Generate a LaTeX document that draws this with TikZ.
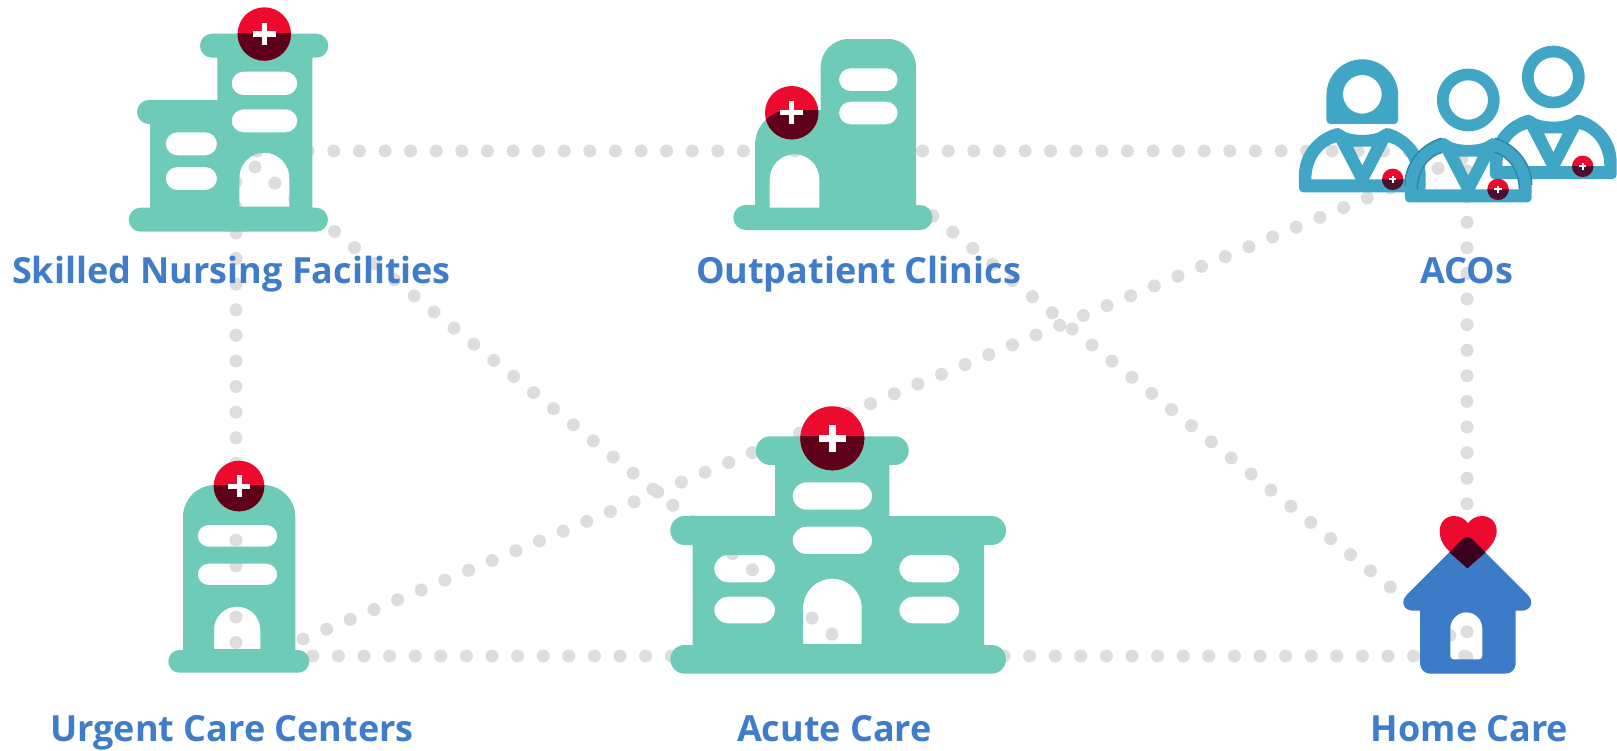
\documentclass[tikz,border=0pt]{standalone}
\usepackage{fontspec}
\setmainfont{Open Sans}[Ligatures=NoCommon]
\definecolor{teal1}{HTML}{6DCBB8}
\definecolor{red1}{HTML}{EC0B2E}
\definecolor{dark1}{HTML}{5F001B}
\definecolor{dark2}{HTML}{4A1030}
\definecolor{dark3}{HTML}{3B0020}
\definecolor{house1}{HTML}{3B7BC8}
\definecolor{person1}{HTML}{41A5C6}
\definecolor{person2}{HTML}{2F86A6}
\definecolor{label1}{HTML}{3F7CC9}
\definecolor{dot1}{HTML}{DDDDDD}
\tikzset{
  dotline/.style={draw=dot1,line width=13pt,line cap=round,dash pattern=on 0pt off 25.6pt},
  building/.style={fill=teal1,even odd rule},
  peoplefill/.style={fill=person1,even odd rule},
  caption/.style={text=label1,font=\fontsize{36}{42}\selectfont\bfseries,inner sep=0pt,anchor=base}
}
% x, y, radius, split y, half arm, bar thickness, dark colour
\newcommand\badgemark[7]{%
  \fill[red1] (#1,#2) circle[radius=#3pt];
  \begin{scope}
    \clip ({#1-#3-1},#4) rectangle ({#1+#3+1},{#2+#3+1});
    \fill[#7] (#1,#2) circle[radius=#3pt];
  \end{scope}
  \fill[white] ({#1-#5},{#2-#6/2}) rectangle ({#1+#5},{#2+#6/2});
  \fill[white] ({#1-#6/2},{#2-#5}) rectangle ({#1+#6/2},{#2+#5});
}
\newcommand\personbody[2]{%
  \begin{scope}[shift={(#1,#2)},scale=1/3]
  \fill[peoplefill]
    (-178,0) .. controls (-185,0) and (-190,-6) .. (-190,-13) -- (-190,-52)
    .. controls (-190,-120) and (-140,-175) .. (-80,-192)
    .. controls (-73,-194) and (-68,-192) .. (-62,-188)
    .. controls (-40,-167) and (40,-167) .. (62,-188)
    .. controls (68,-192) and (73,-194) .. (80,-192)
    .. controls (140,-175) and (190,-120) .. (190,-52) -- (190,-13)
    .. controls (190,-6) and (185,0) .. (178,0) -- cycle
    (-153,-39) -- (-20,-39) -- (-78,-150) .. controls (-120,-140) and (-153,-95) .. (-153,-39) -- cycle
    (153,-39) -- (20,-39) -- (78,-150) .. controls (120,-140) and (153,-95) .. (153,-39) -- cycle
    (-28,-137) -- (28,-137) -- (0,-80) -- cycle;
  \end{scope}
}
\begin{document}
\begin{tikzpicture}[x=1pt,y=1pt,yscale=-1]
\useasboundingbox (0,0) rectangle (1617,750);
\fill[white] (0,0) rectangle (1617,750);

% connector ends
\coordinate (snfRow) at (257,151);
\coordinate (acoRow) at (1411,151);
\coordinate (snfDown) at (236,181.7);
\coordinate (ucTop) at (236,643);
\coordinate (ucRow) at (236,656);
\coordinate (homeRow) at (1465,656);
\coordinate (snfDiag) at (255,167);
\coordinate (acuteDoor) at (833,635);
\coordinate (ucDiag) at (303,639);
\coordinate (acoDiag) at (1463,158);
\coordinate (opDiag) at (933,216);
\coordinate (homeDiag) at (1468,650);
\coordinate (acoDown) at (1467,171);
\coordinate (homeTop) at (1467,657.6);

\draw[dotline] (snfRow) -- (acoRow);
\draw[dotline] (snfDown) -- (ucTop);
\draw[dotline] (ucRow) -- (homeRow);
\draw[dotline] (snfDiag) -- (acuteDoor);
\draw[dotline] (ucDiag) -- (acoDiag);
\draw[dotline] (opDiag) -- (homeDiag);
\draw[dotline] (acoDown) -- (homeTop);

% Skilled Nursing Facilities
\fill[building]
  (212,33.7) -- (316.3,33.7) arc (-90:90:12pt) -- (312.3,57.7) -- (312.3,207.7) -- (316,207.7) arc (-90:90:12pt)
  -- (140.7,231.7) arc (90:270:12pt) -- (150,207.7) -- (150,124) -- (149,124) arc (90:270:12pt)
  -- (217.3,100) -- (217.3,57.7) -- (212,57.7) arc (90:270:12pt) -- cycle
  (239.3,206.7) -- (239.3,177.7) arc (180:360:25pt) -- (289.3,206.7) -- cycle
  [rounded corners=11.5pt]
  (231.7,71.7) rectangle (297.3,95)
  (231.7,109.3) rectangle (297.3,132.3)
  (165.7,132.3) rectangle (217,155.3)
  (165.7,167) rectangle (217,190);
\badgemark{264.3}{34}{26.7}{33.7}{11.3}{5.3}{dark1}

% Outpatient Clinics
\fill[building]
  (848.7,39) -- (888,39) arc (-90:0:28pt) -- (916,205) -- (920,205) arc (-90:90:12.5pt)
  -- (745.8,230) arc (90:270:12.5pt) -- (755,205) -- (755,145) arc (180:270:35pt)
  -- (820.7,110) -- (820.7,67) arc (180:270:28pt) -- cycle
  (769.7,207.7) -- (769.7,179) arc (180:360:24.8pt) -- (819.3,207.7) -- cycle
  [rounded corners=11.3pt]
  (839,68.3) rectangle (897.7,91)
  (839,101.7) rectangle (897.7,124.3);
\fill[red1] (791.7,112.7) circle[radius=26.7pt];
\begin{scope}
  \clip (755,205) -- (755,145) arc (180:270:35pt) -- (820.7,110) -- (830,110) -- (830,205) -- cycle;
  \fill[dark1] (791.7,112.7) circle[radius=26.7pt];
\end{scope}
\fill[white] (780.4,110) rectangle (803,115.3);
\fill[white] (789,101.4) rectangle (794.3,124);

% Urgent Care Centers
\fill[building]
  (215,485) -- (263.3,485) arc (-90:0:32pt) -- (295.3,650) -- (298,650) arc (-90:90:11.35pt)
  -- (179.6,672.7) arc (90:270:11.35pt) -- (183,650) -- (183,517) arc (180:270:32pt) -- cycle
  (214,649) -- (214,629.7) arc (180:360:23.15pt) -- (260.3,649) -- cycle
  [rounded corners=10.8pt]
  (197.7,525) rectangle (277.3,546.7)
  (197.7,563.7) rectangle (277.3,585);
\badgemark{239}{486}{25.3}{485}{11}{5}{dark1}

% Acute Care
\fill[building]
  (770.3,436.3) -- (894.4,436.3) arc (-90:90:14.35pt) -- (889.3,465) -- (889.3,516) -- (991.5,516) arc (-90:90:14.5pt)
  -- (984,545) -- (984,645) -- (991.6,645) arc (-90:90:14.35pt)
  -- (684.7,673.7) arc (90:270:14.35pt) -- (692.7,645) -- (692.7,545) -- (684.8,545) arc (90:270:14.5pt)
  -- (775,516) -- (775,465) -- (770.3,465) arc (90:270:14.35pt) -- cycle
  (803,644) -- (803,608) arc (180:360:29.35pt) -- (861.7,644) -- cycle
  [rounded corners=13.4pt]
  (792.7,482.3) rectangle (872,509.7)
  (792.7,526.7) rectangle (872,554)
  (714.3,555) rectangle (775,582.3)
  (714.3,596.7) rectangle (775,623.3)
  (899.3,555) rectangle (959.3,582.3)
  (899.3,596.7) rectangle (959.3,623.3);
\badgemark{832.3}{438.3}{32}{436.3}{13.7}{7}{dark1}

% ACOs
\personbody{1362.3}{192.3}
\begin{scope}[shift={(1362.3,192.3)},scale=1/3]
  \fill[peoplefill]
    (-107.5,-217) -- (-107.5,-291.5) arc (180:360:107.5pt) -- (107.5,-217) arc (0:90:12pt) -- (-95.5,-205) arc (90:180:12pt) -- cycle
    (0,-294) circle[radius=58pt];
\end{scope}
\personbody{1553.3}{179}
\begin{scope}[shift={(1553.3,179)},scale=1/3]
  \fill[peoplefill] (0,-306) circle[radius=94pt] (0,-306) circle[radius=59pt];
\end{scope}
\personbody{1468.3}{202.3}
\begin{scope}[shift={(1468.3,202.3)},scale=1/3]
  \fill[peoplefill] (0,-307) circle[radius=94pt] (0,-307) circle[radius=59pt];
  \draw[person2,line width=1.5pt]
    (-190,-52) .. controls (-190,-120) and (-140,-175) .. (-80,-192)
    (190,-52) .. controls (190,-120) and (140,-175) .. (80,-192)
    (-78,-150) .. controls (-120,-140) and (-153,-95) .. (-153,-39)
    (78,-150) .. controls (120,-140) and (153,-95) .. (153,-39);
\end{scope}
\badgemark{1392.7}{179.3}{10.7}{179.3}{3.7}{1.8}{dark2}
\badgemark{1498}{189.3}{10.7}{189.3}{3.7}{1.8}{dark2}
\badgemark{1582.7}{166.3}{10.7}{166.3}{3.7}{1.8}{dark2}

% Home Care
\fill[house1,even odd rule]
  (1430,600) -- (1505.7,600) .. controls (1511,600) and (1515.7,605) .. (1515.7,610) -- (1515.7,663.7)
  .. controls (1515.7,669) and (1511,673.7) .. (1505.7,673.7) -- (1430,673.7)
  .. controls (1425,673.7) and (1420,669) .. (1420,663.7) -- (1420,610) .. controls (1420,605) and (1425,600) .. (1430,600) -- cycle
  (1450.3,656.3) -- (1450.3,628.3) arc (180:360:16pt) -- (1482.3,656.3) arc (0:90:3pt) -- (1453.3,659.3) arc (90:180:3pt) -- cycle;
\fill[house1]
  (1413,610.7) .. controls (1404,610.7) and (1400,602) .. (1406.6,595.1) -- (1462.4,539.2)
  .. controls (1465.1,536.5) and (1469.5,536.5) .. (1472.2,539.2) -- (1528,595.1)
  .. controls (1534.6,602) and (1530.6,610.7) .. (1521.6,610.7) -- cycle;
\fill[red1]
  (1467.3,568.3) -- (1447,549) .. controls (1441,542) and (1439.7,537) .. (1439.7,531)
  .. controls (1439.7,522) and (1446,516) .. (1454,516) .. controls (1460,516) and (1465,519) .. (1468,523.3)
  .. controls (1471,519) and (1476,516) .. (1482,516) .. controls (1490,516) and (1496.7,522) .. (1496.7,531)
  .. controls (1496.7,537) and (1494,542) .. (1488,549) -- cycle;
\fill[dark3]
  (1467.3,568.3) -- (1449.3,552.3) -- (1462.4,539.2)
  .. controls (1465.1,536.5) and (1469.5,536.5) .. (1472.2,539.2) -- (1485.7,552.3) -- cycle;

% labels
\node[caption] (lblSNF) at (231.5,283) {Skilled Nursing Facilities};
\node[caption] (lblOP) at (858.5,283) {Outpatient Clinics};
\node[caption] (lblACO) at (1467,283) {ACOs};
\node[caption] (lblUC) at (232,741.5) {Urgent Care Centers};
\node[caption] (lblAC) at (834.5,741.5) {Acute Care};
\node[caption] (lblHC) at (1469.5,741.5) {Home Care};
\end{tikzpicture}
\end{document}
